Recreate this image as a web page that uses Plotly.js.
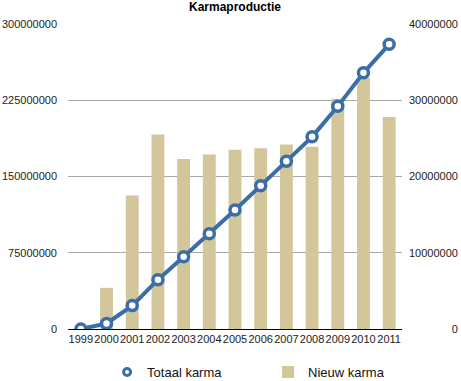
<!DOCTYPE html>
<html>
<head>
<meta charset="utf-8">
<script src="https://cdn.plot.ly/plotly-3.0.1.min.js"></script>
<style>html,body{margin:0;padding:0;background:#fff;}#chart{width:461px;height:381px;}</style>
</head>
<body>
<div id="chart"></div>
<script>
var years = ['1999','2000','2001','2002','2003','2004','2005','2006','2007','2008','2009','2010','2011'];
var totaalKarma = [0, 5400000, 23000000, 48500000, 71000000, 93700000, 117000000, 141000000, 165000000, 189000000, 219000000, 252000000, 280000000];
var nieuwKarma = [0, 5400000, 17500000, 25500000, 22300000, 22900000, 23500000, 23700000, 24200000, 23900000, 30200000, 33000000, 27800000];
var leftTicks = [0, 75000000, 150000000, 225000000, 300000000];
var leftTickText = ['0', '75000000', '150000000', '225000000', '300000000'];
var rightTicks = [0, 10000000, 20000000, 30000000, 40000000];
var rightTickText = ['0', '10000000', '20000000', '30000000', '40000000'];

var fs = '\u2007';
function padLeft(s, n) { while (s.length < n) s = fs + s; return s; }
var rightPadded = rightTickText.map(function (s) { return padLeft(s, 8); });

var font = 'Liberation Sans, Arial, Helvetica, sans-serif';
var blue = '#3b6ea7';

var data = [
  {
    type: 'scatter', mode: 'lines+markers', name: 'Totaal karma', showlegend: false,
    x: years, y: totaalKarma, yaxis: 'y2',
    line: {color: blue, width: 4},
    marker: {symbol: 'circle', size: 10, color: '#ffffff', line: {color: blue, width: 3.5}}
  },
  {
    type: 'scatter', mode: 'markers', name: 'Totaal karma', legendrank: 1,
    x: [null], y: [null], yaxis: 'y2',
    marker: {symbol: 'circle', size: 7, color: '#ffffff', line: {color: blue, width: 3}}
  },
  {
    type: 'bar', name: 'Nieuw karma', legendrank: 2,
    x: years, y: nieuwKarma, yaxis: 'y',
    marker: {color: '#d3c69b'}
  }
];

var layout = {
  width: 461, height: 381,
  margin: {l: 68, r: 59, t: 24, b: 52},
  paper_bgcolor: '#ffffff', plot_bgcolor: '#ffffff',
  font: {family: font, size: 11, color: '#222'},
  title: {text: '<b>Karmaproductie</b>', font: {family: font, size: 12, color: '#000'},
          x: 0.5, xref: 'paper', xanchor: 'center', y: 1 - 7/381, yref: 'container', yanchor: 'middle'},
  showlegend: true,
  legend: {orientation: 'h', x: 0.117, xanchor: 'left', xref: 'paper', y: 9/381, yref: 'container', yanchor: 'middle',
           font: {family: font, size: 13, color: '#111'}, traceorder: 'normal', entrywidth: 116, entrywidthmode: 'pixels',
           bgcolor: 'rgba(0,0,0,0)'},
  bargap: 0.5,
  xaxis: {type: 'category', range: [-0.5, 12.5], showgrid: false, showline: true, linecolor: '#000', linewidth: 1.2,
          ticks: '', tickangle: 0, tickfont: {family: font, size: 11, color: '#222'}, fixedrange: true},
  yaxis: {side: 'right', range: [0, 40000000], tickvals: rightTicks, ticktext: rightPadded,
          showgrid: true, gridcolor: '#a8a8a8', gridwidth: 1, zeroline: false, showline: false, ticks: '',
          tickfont: {family: font, size: 11, color: '#222'}, ticklabelstandoff: 6},
  yaxis2: {side: 'left', overlaying: 'y', range: [0, 300000000], tickvals: leftTicks, ticktext: leftTickText,
           showgrid: false, zeroline: false, showline: false, ticks: '',
           tickfont: {family: font, size: 11, color: '#222'}, ticklabelstandoff: 10}
};

Plotly.newPlot('chart', data, layout, {displayModeBar: false, staticPlot: true});
</script>
</body>
</html>
